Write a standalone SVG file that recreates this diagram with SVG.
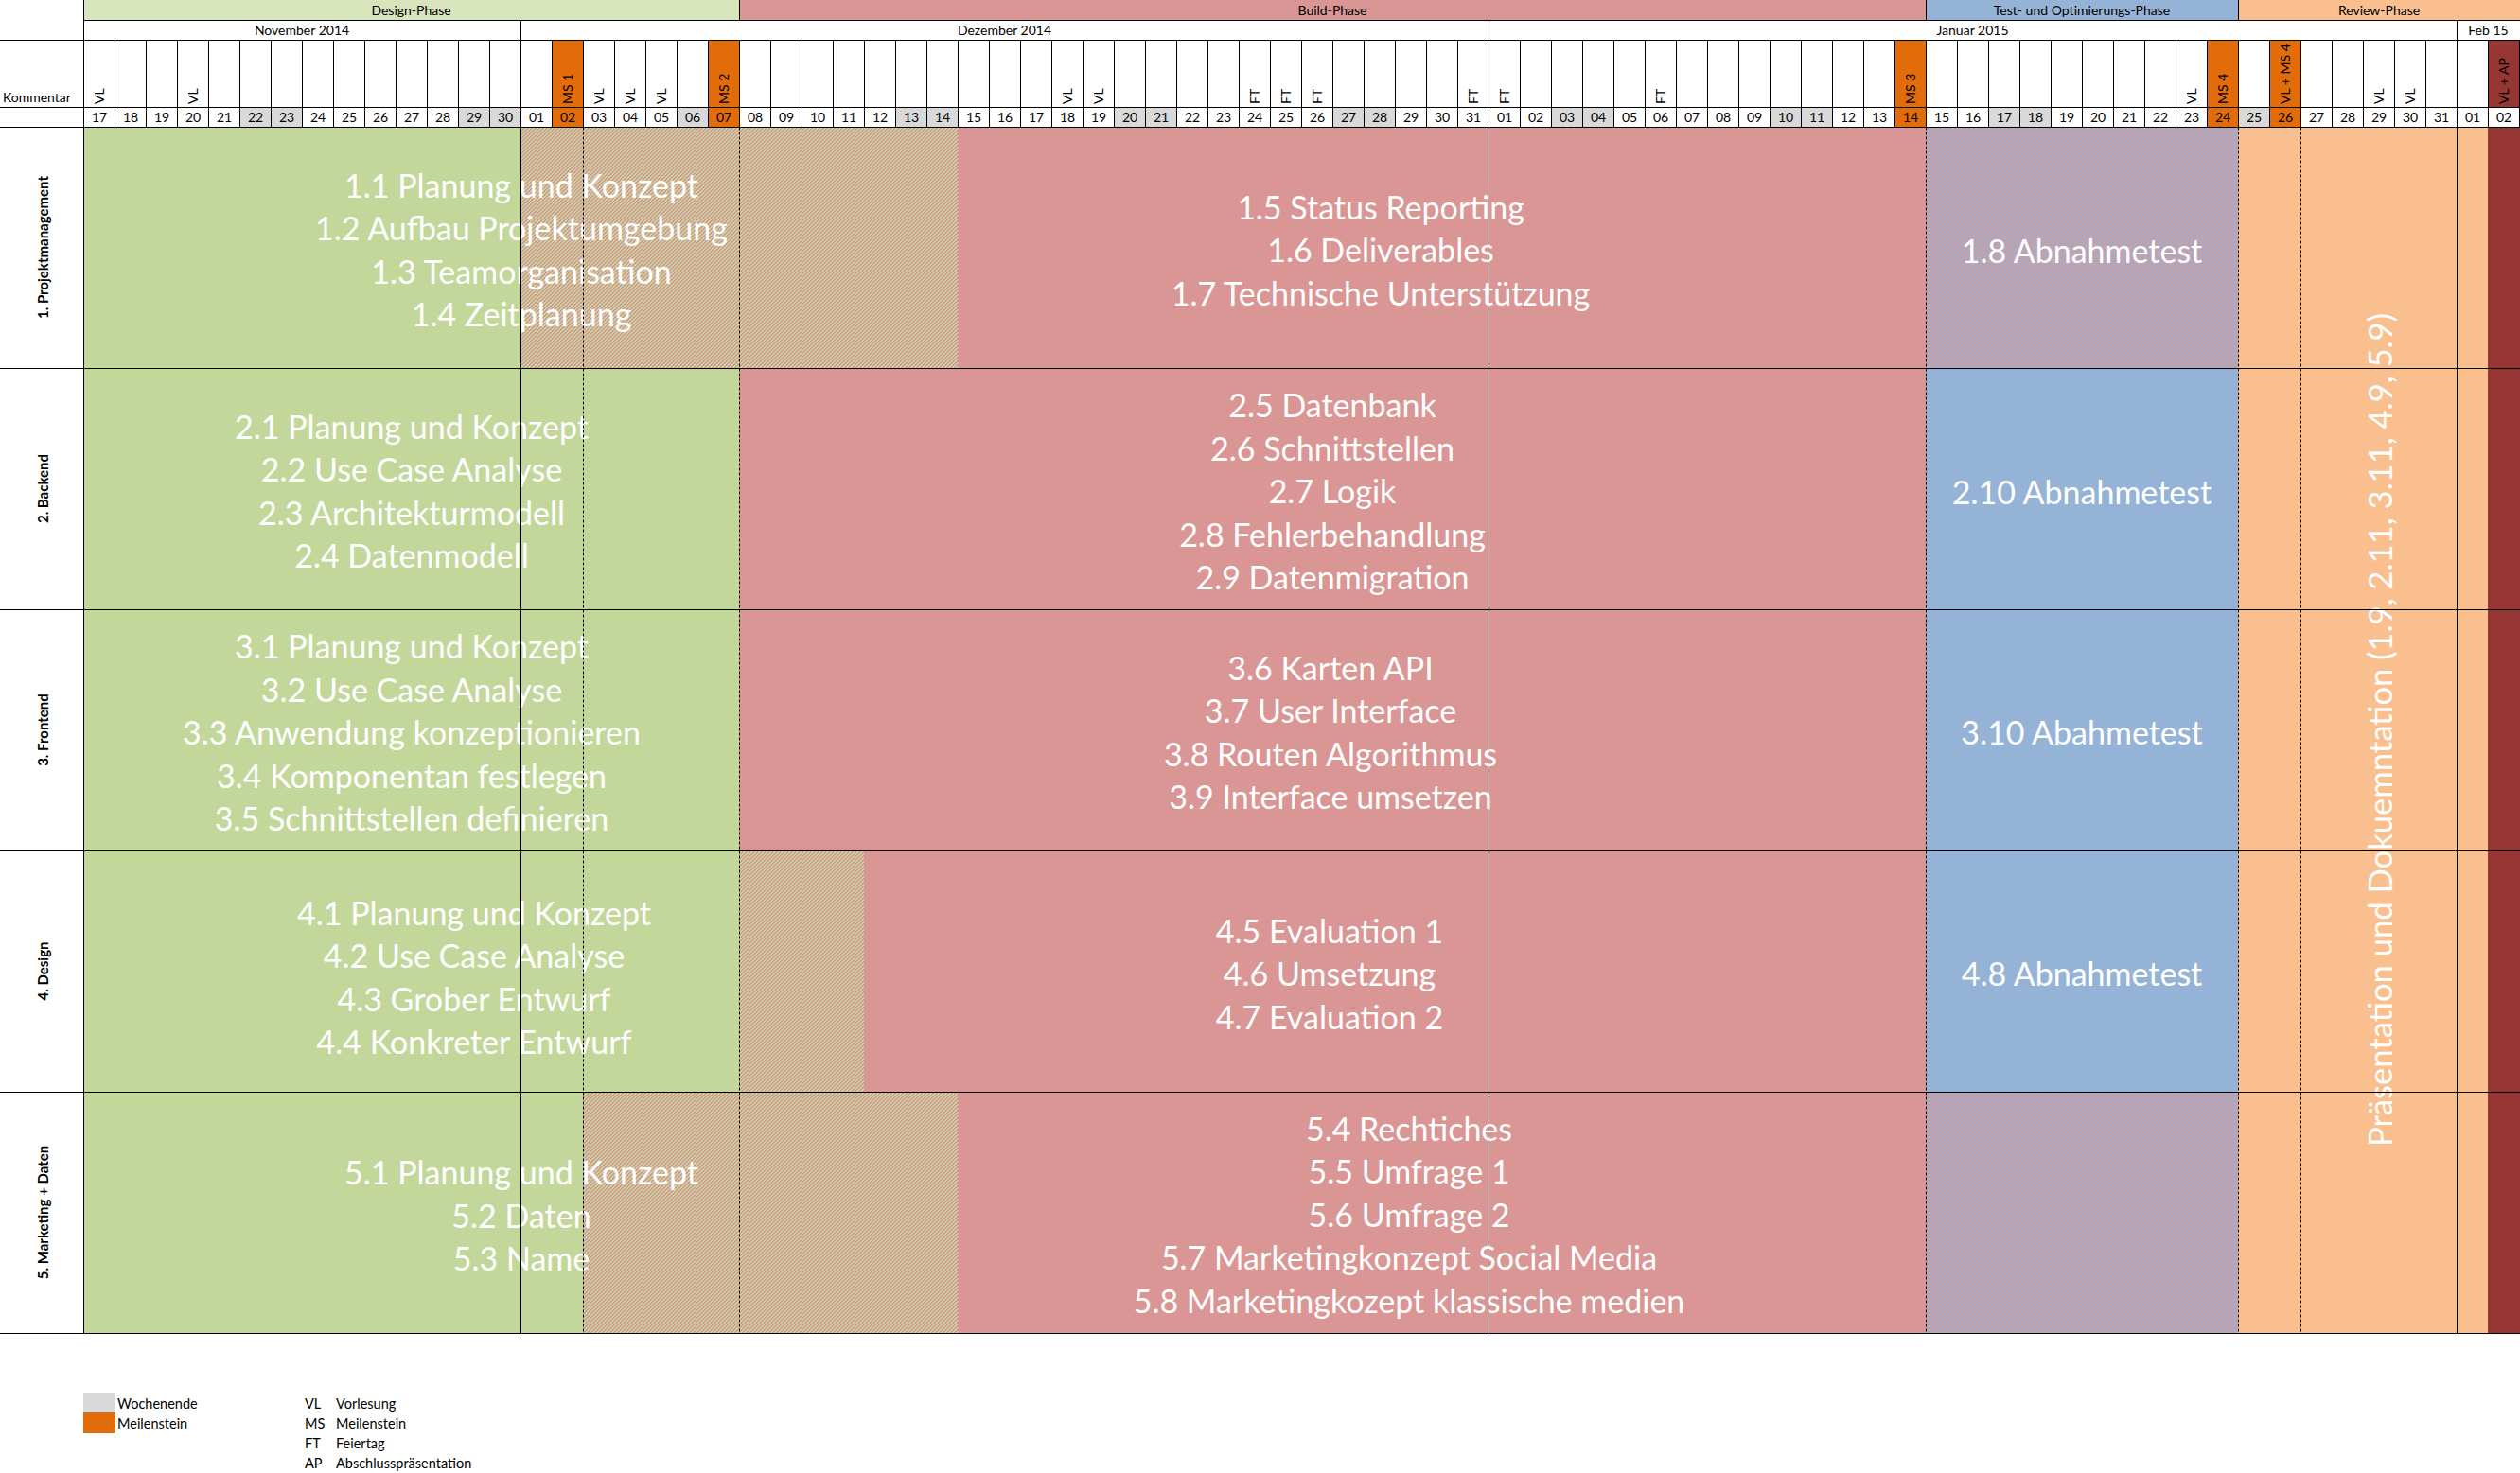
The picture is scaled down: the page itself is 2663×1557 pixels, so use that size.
<svg xmlns="http://www.w3.org/2000/svg" width="2663" height="1557" viewBox="0 0 2663 1557">
<style>
text{font-family:Lato,"Liberation Sans",sans-serif;}
.big{font-size:34px;fill:#fff;text-anchor:middle;}
.hd{font-size:14px;fill:#000;text-anchor:middle;}
.cm{font-size:14px;fill:#000;}
.lb{font-size:15px;font-weight:bold;fill:#000;text-anchor:middle;}
.lg{font-size:14.5px;fill:#000;}
.ln{stroke:#000;stroke-width:1;fill:none;}
.ds{stroke:#000;stroke-width:1;fill:none;stroke-dasharray:3 2;}
.g{fill:#c4d79b;}.r{fill:#da9694;}.b{fill:#95b3d7;}.o{fill:#fabf8f;}.dr{fill:#963634;}.ms{fill:#e26b0a;}.we{fill:#d9d9d9;}
</style>
<defs>
<pattern id="hGR" x="0" y="0" width="4" height="4" patternUnits="userSpaceOnUse" shape-rendering="crispEdges"><rect width="4" height="4" fill="#da9694"/><g fill="#c4d79b"><rect x="2" y="0" width="2" height="1"/><rect x="1" y="1" width="2" height="1"/><rect x="0" y="2" width="2" height="1"/><rect x="3" y="3" width="1" height="1"/><rect x="0" y="3" width="1" height="1"/></g></pattern>
<pattern id="hBR" x="0" y="0" width="4" height="4" patternUnits="userSpaceOnUse" shape-rendering="crispEdges"><rect width="4" height="4" fill="#da9694"/><g fill="#95b3d7"><rect x="2" y="0" width="2" height="1"/><rect x="1" y="1" width="2" height="1"/><rect x="0" y="2" width="2" height="1"/><rect x="3" y="3" width="1" height="1"/><rect x="0" y="3" width="1" height="1"/></g></pattern>
</defs>
<rect width="2663" height="1557" fill="#fff"/>

<g id="header-phases">
<rect x="88" y="0" width="693" height="21.5" fill="#d8e4bc"/>
<rect x="781" y="0" width="1254" height="21.5" fill="#da9694"/>
<rect x="2035" y="0" width="330" height="21.5" fill="#95b3d7"/>
<rect x="2365" y="0" width="298" height="21.5" fill="#fabf8f"/>
<text class="hd" x="434.5" y="16">Design-Phase</text>
<text class="hd" x="1408" y="16">Build-Phase</text>
<text class="hd" x="2200" y="16">Test- und Optimierungs-Phase</text>
<text class="hd" x="2514" y="16">Review-Phase</text>
</g>

<g id="header-months">
<text class="hd" x="319" y="37">November 2014</text>
<text class="hd" x="1061.5" y="37">Dezember 2014</text>
<text class="hd" x="2084.5" y="37">Januar 2015</text>
<text class="hd" x="2629.5" y="37">Feb 15</text>
</g>

<g id="header-days">
<rect class="ms" x="583" y="42.5" width="33" height="92"/>
<rect class="ms" x="748" y="42.5" width="33" height="92"/>
<rect class="ms" x="2002" y="42.5" width="33" height="92"/>
<rect class="ms" x="2332" y="42.5" width="33" height="92"/>
<rect class="ms" x="2398" y="42.5" width="33" height="92"/>
<rect class="dr" x="2629" y="42.5" width="34" height="71"/>
<rect class="we" x="253" y="113.5" width="66" height="21"/>
<rect class="we" x="484" y="113.5" width="66" height="21"/>
<rect class="we" x="715" y="113.5" width="33" height="21"/>
<rect class="we" x="946" y="113.5" width="66" height="21"/>
<rect class="we" x="1177" y="113.5" width="66" height="21"/>
<rect class="we" x="1408" y="113.5" width="66" height="21"/>
<rect class="we" x="1639" y="113.5" width="66" height="21"/>
<rect class="we" x="1870" y="113.5" width="66" height="21"/>
<rect class="we" x="2101" y="113.5" width="66" height="21"/>
<rect class="we" x="2365" y="113.5" width="33" height="21"/>
<text class="cm" x="3" y="108">Kommentar</text>
<g class="cm">
<text transform="translate(110,110) rotate(-90)">VL</text>
<text transform="translate(209,110) rotate(-90)">VL</text>
<text transform="translate(605,110) rotate(-90)">MS 1</text>
<text transform="translate(638,110) rotate(-90)">VL</text>
<text transform="translate(671,110) rotate(-90)">VL</text>
<text transform="translate(704,110) rotate(-90)">VL</text>
<text transform="translate(770,110) rotate(-90)">MS 2</text>
<text transform="translate(1133,110) rotate(-90)">VL</text>
<text transform="translate(1166,110) rotate(-90)">VL</text>
<text transform="translate(1331,110) rotate(-90)">FT</text>
<text transform="translate(1364,110) rotate(-90)">FT</text>
<text transform="translate(1397,110) rotate(-90)">FT</text>
<text transform="translate(1562,110) rotate(-90)">FT</text>
<text transform="translate(1595,110) rotate(-90)">FT</text>
<text transform="translate(1760,110) rotate(-90)">FT</text>
<text transform="translate(2024,110) rotate(-90)">MS 3</text>
<text transform="translate(2321,110) rotate(-90)">VL</text>
<text transform="translate(2354,110) rotate(-90)">MS 4</text>
<text transform="translate(2420,110) rotate(-90)">VL + MS 4</text>
<text transform="translate(2519,110) rotate(-90)">VL</text>
<text transform="translate(2552,110) rotate(-90)">VL</text>
<text transform="translate(2651,110) rotate(-90)">VL + AP</text>
</g>
<g class="hd">
<text x="105" y="129">17</text><text x="138" y="129">18</text><text x="171" y="129">19</text><text x="204" y="129">20</text><text x="237" y="129">21</text><text x="270" y="129">22</text><text x="303" y="129">23</text><text x="336" y="129">24</text><text x="369" y="129">25</text><text x="402" y="129">26</text><text x="435" y="129">27</text><text x="468" y="129">28</text><text x="501" y="129">29</text><text x="534" y="129">30</text>
<text x="567" y="129">01</text><text x="600" y="129">02</text><text x="633" y="129">03</text><text x="666" y="129">04</text><text x="699" y="129">05</text><text x="732" y="129">06</text><text x="765" y="129">07</text><text x="798" y="129">08</text><text x="831" y="129">09</text><text x="864" y="129">10</text><text x="897" y="129">11</text><text x="930" y="129">12</text><text x="963" y="129">13</text><text x="996" y="129">14</text><text x="1029" y="129">15</text><text x="1062" y="129">16</text><text x="1095" y="129">17</text><text x="1128" y="129">18</text><text x="1161" y="129">19</text><text x="1194" y="129">20</text><text x="1227" y="129">21</text><text x="1260" y="129">22</text><text x="1293" y="129">23</text><text x="1326" y="129">24</text><text x="1359" y="129">25</text><text x="1392" y="129">26</text><text x="1425" y="129">27</text><text x="1458" y="129">28</text><text x="1491" y="129">29</text><text x="1524" y="129">30</text><text x="1557" y="129">31</text>
<text x="1590" y="129">01</text><text x="1623" y="129">02</text><text x="1656" y="129">03</text><text x="1689" y="129">04</text><text x="1722" y="129">05</text><text x="1755" y="129">06</text><text x="1788" y="129">07</text><text x="1821" y="129">08</text><text x="1854" y="129">09</text><text x="1887" y="129">10</text><text x="1920" y="129">11</text><text x="1953" y="129">12</text><text x="1986" y="129">13</text><text x="2019" y="129">14</text><text x="2052" y="129">15</text><text x="2085" y="129">16</text><text x="2118" y="129">17</text><text x="2151" y="129">18</text><text x="2184" y="129">19</text><text x="2217" y="129">20</text><text x="2250" y="129">21</text><text x="2283" y="129">22</text><text x="2316" y="129">23</text><text x="2349" y="129">24</text><text x="2382" y="129">25</text><text x="2415" y="129">26</text><text x="2448" y="129">27</text><text x="2481" y="129">28</text><text x="2514" y="129">29</text><text x="2547" y="129">30</text><text x="2580" y="129">31</text>
<text x="2613" y="129">01</text><text x="2646" y="129">02</text>
</g>
</g>

<g id="review-column">
<rect class="o" x="2365" y="134" width="264" height="1275"/>
<rect class="dr" x="2629" y="134" width="34" height="1275"/>
</g>

<g id="row1-projektmanagement">
<rect class="g" x="88" y="134" width="462" height="255"/>
<rect x="550" y="134" width="462" height="255" fill="url(#hGR)"/>
<rect class="r" x="1012" y="134" width="1023" height="255"/>
<rect x="2035" y="134" width="330" height="255" fill="url(#hBR)"/>
<text class="lb" transform="translate(51,261.5) rotate(-90)">1. Projektmanagement</text>
<text class="big" x="551" y="208.75">1.1 Planung und Konzept</text>
<text class="big" x="551" y="254.25">1.2 Aufbau Projektumgebung</text>
<text class="big" x="551" y="299.75">1.3 Teamorganisation</text>
<text class="big" x="551" y="345.25">1.4 Zeitplanung</text>
<text class="big" x="1459" y="231.5">1.5 Status Reporting</text>
<text class="big" x="1459" y="277">1.6 Deliverables</text>
<text class="big" x="1459" y="322.5">1.7 Technische Unterstützung</text>
<text class="big" x="2200" y="277.5">1.8 Abnahmetest</text>
</g>

<g id="row2-backend">
<rect class="g" x="88" y="389" width="693" height="255"/>
<rect class="r" x="781" y="389" width="1254" height="255"/>
<rect class="b" x="2035" y="389" width="330" height="255"/>
<text class="lb" transform="translate(51,516.5) rotate(-90)">2. Backend</text>
<text class="big" x="435" y="463.75">2.1 Planung und Konzept</text>
<text class="big" x="435" y="509.25">2.2 Use Case Analyse</text>
<text class="big" x="435" y="554.75">2.3 Architekturmodell</text>
<text class="big" x="435" y="600.25">2.4 Datenmodell</text>
<text class="big" x="1408" y="441">2.5 Datenbank</text>
<text class="big" x="1408" y="486.5">2.6 Schnittstellen</text>
<text class="big" x="1408" y="532">2.7 Logik</text>
<text class="big" x="1408" y="577.5">2.8 Fehlerbehandlung</text>
<text class="big" x="1408" y="623">2.9 Datenmigration</text>
<text class="big" x="2200" y="533">2.10 Abnahmetest</text>
</g>

<g id="row3-frontend">
<rect class="g" x="88" y="644" width="693" height="255"/>
<rect class="r" x="781" y="644" width="1254" height="255"/>
<rect class="b" x="2035" y="644" width="330" height="255"/>
<text class="lb" transform="translate(51,771.5) rotate(-90)">3. Frontend</text>
<text class="big" x="435" y="696">3.1 Planung und Konzept</text>
<text class="big" x="435" y="741.5">3.2 Use Case Analyse</text>
<text class="big" x="435" y="787">3.3 Anwendung konzeptionieren</text>
<text class="big" x="435" y="832.5">3.4 Komponentan festlegen</text>
<text class="big" x="435" y="878">3.5 Schnittstellen definieren</text>
<text class="big" x="1406" y="718.75">3.6 Karten API</text>
<text class="big" x="1406" y="764.25">3.7 User Interface</text>
<text class="big" x="1406" y="809.75">3.8 Routen Algorithmus</text>
<text class="big" x="1406" y="855.25">3.9 Interface umsetzen</text>
<text class="big" x="2200" y="787">3.10 Abahmetest</text>
</g>

<g id="row4-design">
<rect class="g" x="88" y="899" width="693" height="255"/>
<rect x="781" y="899" width="132" height="255" fill="url(#hGR)"/>
<rect class="r" x="913" y="899" width="1122" height="255"/>
<rect class="b" x="2035" y="899" width="330" height="255"/>
<text class="lb" transform="translate(51,1026.5) rotate(-90)">4. Design</text>
<text class="big" x="501" y="977.5">4.1 Planung und Konzept</text>
<text class="big" x="501" y="1023">4.2 Use Case Analyse</text>
<text class="big" x="501" y="1068.5">4.3 Grober Entwurf</text>
<text class="big" x="501" y="1114">4.4 Konkreter Entwurf</text>
<text class="big" x="1405" y="996.5">4.5 Evaluation 1</text>
<text class="big" x="1405" y="1042">4.6 Umsetzung</text>
<text class="big" x="1405" y="1087.5">4.7 Evaluation 2</text>
<text class="big" x="2200" y="1042">4.8 Abnahmetest</text>
</g>

<g id="row5-marketing">
<rect class="g" x="88" y="1154" width="528" height="255"/>
<rect x="616" y="1154" width="396" height="255" fill="url(#hGR)"/>
<rect class="r" x="1012" y="1154" width="1023" height="255"/>
<rect x="2035" y="1154" width="330" height="255" fill="url(#hBR)"/>
<text class="lb" transform="translate(51,1281.5) rotate(-90)">5. Marketing + Daten</text>
<text class="big" x="551" y="1252">5.1 Planung und Konzept</text>
<text class="big" x="551" y="1297.5">5.2 Daten</text>
<text class="big" x="551" y="1343">5.3 Name</text>
<text class="big" x="1489" y="1205.5">5.4 Rechtiches</text>
<text class="big" x="1489" y="1251">5.5 Umfrage 1</text>
<text class="big" x="1489" y="1296.5">5.6 Umfrage 2</text>
<text class="big" x="1489" y="1342">5.7 Marketingkonzept Social Media</text>
<text class="big" x="1489" y="1387.5">5.8 Marketingkozept klassische medien</text>
</g>

<g id="review-text">
<text class="big" style="font-size:34.6px" transform="translate(2528,771.5) rotate(-90)">Präsentation und Dokuemntation (1.9, 2.11, 3.11, 4.9, 5.9)</text>
</g>

<g id="connectors">
<path class="ln" d="M88.5 0V1409.5 M781.5 0V21.5 M2035.5 0V21.5 M2365.5 0V21.5 M88.5 21.5H2663 M550.5 21.5V42.5 M1573.5 21.5V42.5 M2596.5 21.5V42.5 M0 42.5H2663 M0 113.5H2663 M0 134.5H2663 M0 389.5H2663 M0 644.5H2663 M0 899.5H2663 M0 1154.5H2663 M0 1409.5H2663 M550.5 134.5V1409.5 M1573.5 134.5V1409.5 M2596.5 134.5V1409.5"/>
<path class="ds" d="M616.5 134.5V1409.5 M781.5 134.5V1409.5 M2035.5 134.5V1409.5 M2365.5 134.5V1409.5 M2431.5 134.5V1409.5"/>
<path class="ln" d="M88.5 42.5V134.5 M121.5 42.5V134.5 M154.5 42.5V134.5 M187.5 42.5V134.5 M220.5 42.5V134.5 M253.5 42.5V134.5 M286.5 42.5V134.5 M319.5 42.5V134.5 M352.5 42.5V134.5 M385.5 42.5V134.5 M418.5 42.5V134.5 M451.5 42.5V134.5 M484.5 42.5V134.5 M517.5 42.5V134.5 M550.5 42.5V134.5 M583.5 42.5V134.5 M616.5 42.5V134.5 M649.5 42.5V134.5 M682.5 42.5V134.5 M715.5 42.5V134.5 M748.5 42.5V134.5 M781.5 42.5V134.5 M814.5 42.5V134.5 M847.5 42.5V134.5 M880.5 42.5V134.5 M913.5 42.5V134.5 M946.5 42.5V134.5 M979.5 42.5V134.5 M1012.5 42.5V134.5 M1045.5 42.5V134.5 M1078.5 42.5V134.5 M1111.5 42.5V134.5 M1144.5 42.5V134.5 M1177.5 42.5V134.5 M1210.5 42.5V134.5 M1243.5 42.5V134.5 M1276.5 42.5V134.5 M1309.5 42.5V134.5 M1342.5 42.5V134.5 M1375.5 42.5V134.5 M1408.5 42.5V134.5 M1441.5 42.5V134.5 M1474.5 42.5V134.5 M1507.5 42.5V134.5 M1540.5 42.5V134.5 M1573.5 42.5V134.5 M1606.5 42.5V134.5 M1639.5 42.5V134.5 M1672.5 42.5V134.5 M1705.5 42.5V134.5 M1738.5 42.5V134.5 M1771.5 42.5V134.5 M1804.5 42.5V134.5 M1837.5 42.5V134.5 M1870.5 42.5V134.5 M1903.5 42.5V134.5 M1936.5 42.5V134.5 M1969.5 42.5V134.5 M2002.5 42.5V134.5 M2035.5 42.5V134.5 M2068.5 42.5V134.5 M2101.5 42.5V134.5 M2134.5 42.5V134.5 M2167.5 42.5V134.5 M2200.5 42.5V134.5 M2233.5 42.5V134.5 M2266.5 42.5V134.5 M2299.5 42.5V134.5 M2332.5 42.5V134.5 M2365.5 42.5V134.5 M2398.5 42.5V134.5 M2431.5 42.5V134.5 M2464.5 42.5V134.5 M2497.5 42.5V134.5 M2530.5 42.5V134.5 M2563.5 42.5V134.5 M2596.5 42.5V134.5 M2629.5 42.5V134.5 M2662.5 42.5V134.5"/>
</g>

<g id="legend">
<rect class="we" x="88" y="1472" width="34" height="21"/>
<rect class="ms" x="88" y="1493" width="34" height="22"/>
<text class="lg" x="124" y="1488.5">Wochenende</text>
<text class="lg" x="124" y="1509.5">Meilenstein</text>
<text class="lg" x="322" y="1488.5">VL</text><text class="lg" x="355" y="1488.5">Vorlesung</text>
<text class="lg" x="322" y="1509.5">MS</text><text class="lg" x="355" y="1509.5">Meilenstein</text>
<text class="lg" x="322" y="1530.5">FT</text><text class="lg" x="355" y="1530.5">Feiertag</text>
<text class="lg" x="322" y="1551.5">AP</text><text class="lg" x="355" y="1551.5">Abschlusspräsentation</text>
</g>
</svg>
